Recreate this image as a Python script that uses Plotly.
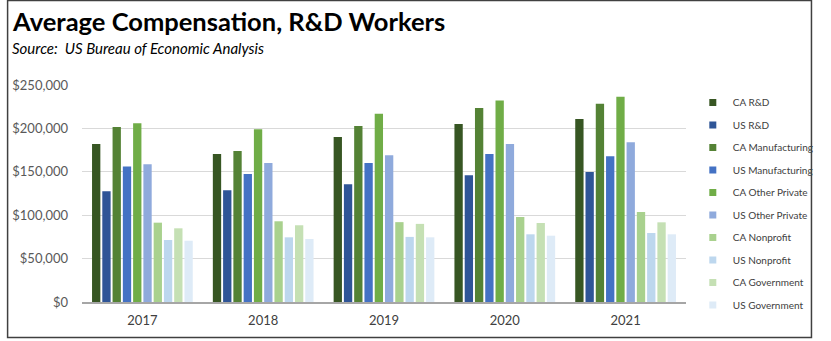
import plotly.graph_objects as go

years = ["2017", "2018", "2019", "2020", "2021"]

series_names = [
    "CA R&D", "US R&D", "CA Manufacturing", "US Manufacturing",
    "CA Other Private", "US Other Private", "CA Nonprofit", "US Nonprofit",
    "CA Government", "US Government",
]

ca_rd = [182000, 170500, 190000, 205000, 210800]
us_rd = [127500, 128700, 135600, 146000, 149800]
ca_manufacturing = [201600, 174000, 202800, 223500, 228500]
us_manufacturing = [156000, 147500, 160000, 170500, 168000]
ca_other_private = [206000, 199000, 217000, 232000, 236500]
us_other_private = [158600, 160000, 169000, 182000, 184000]
ca_nonprofit = [91400, 93000, 92000, 98000, 103700]
us_nonprofit = [71400, 74500, 75000, 78000, 79500]
ca_government = [84900, 88400, 90000, 91000, 91800]
us_government = [70600, 72600, 74500, 76400, 78000]

series_values = [
    ca_rd, us_rd, ca_manufacturing, us_manufacturing, ca_other_private,
    us_other_private, ca_nonprofit, us_nonprofit, ca_government, us_government,
]

series_colors = [
    "#375623", "#2F5597", "#548235", "#4472C4", "#70AD47",
    "#8FAADC", "#A9D18E", "#BDD7EE", "#C5E0B4", "#DEEBF7",
]

y_ticks = [0, 50000, 100000, 150000, 200000, 250000]
y_tick_labels = ["$0", "$50,000", "$100,000", "$150,000", "$200,000", "$250,000"]

FONT = "Lato"

fig = go.Figure()
for name, vals, color in zip(series_names, series_values, series_colors):
    fig.add_trace(go.Bar(
        name=name, x=years, y=vals, marker_color=color,
        marker_line_width=0, legendgroup=name, showlegend=False,
    ))
    # small square swatch for the legend entry
    fig.add_trace(go.Scatter(
        name=name, x=[None], y=[None], mode="markers",
        marker=dict(symbol="square", size=7, color=color),
        legendgroup=name, showlegend=True, hoverinfo="skip",
    ))

# plot area in pixels: x 77..698, y 85..302
L, R, T, B = 77, 133, 85, 39
W, H = 831, 341
pw, ph = W - L - R, H - T - B


def px_x(x):
    return (x - L) / pw


def px_y(y):
    return (H - B - y) / ph


fig.update_layout(
    width=W, height=H,
    margin=dict(l=L, r=R, t=T, b=B, pad=0),
    paper_bgcolor="white", plot_bgcolor="white",
    barmode="group", bargap=0.15, bargroupgap=0.19,
    font=dict(family=FONT, color="#595959"),
    showlegend=True,
    legend=dict(
        x=px_x(705), y=px_y(88), xanchor="left", yanchor="top",
        font=dict(size=10, color="#404040", family=FONT),
        tracegroupgap=3.5, bgcolor="rgba(0,0,0,0)",
        itemsizing="trace", maxheight=400,
    ),
    xaxis=dict(
        showgrid=False, showline=True, linecolor="#A6A6A6", linewidth=2,
        ticks="", tickfont=dict(size=13, color="#404040"),
        ticklabelstandoff=5, fixedrange=True,
    ),
    yaxis=dict(
        range=[0, 250000], tickvals=y_ticks, ticktext=y_tick_labels,
        showgrid=True, gridcolor="#D9D9D9", gridwidth=1,
        zeroline=False, showline=False, ticks="",
        tickfont=dict(size=13, color="#595959"), ticklabelstandoff=13,
        fixedrange=True,
    ),
    shapes=[
        dict(type="rect", xref="paper", yref="paper",
             x0=px_x(0.5), x1=px_x(827), y0=px_y(337.5), y1=px_y(0.5),
             line=dict(color="#404040", width=1.5), fillcolor="rgba(0,0,0,0)",
             layer="below"),
    ],
    annotations=[
        dict(text="<b>Average Compensation, R&D Workers</b>",
             xref="paper", yref="paper", x=px_x(3), y=px_y(4),
             xanchor="left", yanchor="top", showarrow=False,
             font=dict(size=25.5, color="black", family=FONT)),
        dict(text="<i>Source:  US Bureau of Economic Analysis</i>",
             xref="paper", yref="paper", x=px_x(3), y=px_y(37),
             xanchor="left", yanchor="top", showarrow=False,
             font=dict(size=15, color="black", family=FONT)),
    ],
)

fig.write_html("out.html")
